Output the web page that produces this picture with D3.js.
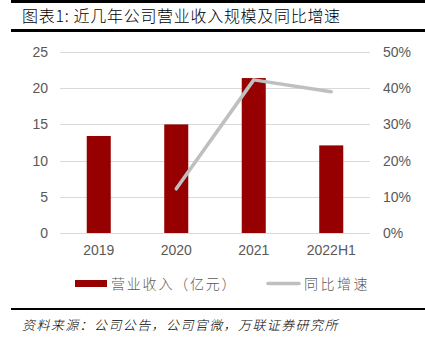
<!DOCTYPE html>
<html>
<head>
<meta charset="utf-8">
<script src="https://cdn.jsdelivr.net/npm/d3@7/dist/d3.min.js"></script>
<style>
  body { margin: 0; background: #fff; }
  svg { display: block; }
</style>
</head>
<body>
<svg id="chart" width="425" height="345"></svg>
<script>
// Revenue (100 million CNY) and year-over-year growth
const categories = ["2019", "2020", "2021", "2022H1"];
const revenue = [13.4, 15.0, 21.4, 12.1];
const growth = [null, 0.122, 0.423, 0.39];
const leftTicks = [0, 5, 10, 15, 20, 25];
const rightTicks = [0, 0.1, 0.2, 0.3, 0.4, 0.5];

const svg = d3.select("#chart");
const cjk = "'Noto Sans CJK SC', 'Noto Sans', sans-serif";
const latin = "Arial, 'Liberation Sans', sans-serif";

// Header and footer rules
svg.append("rect").attr("x", 11).attr("y", 0).attr("width", 414).attr("height", 3).attr("fill", "#000");
svg.append("rect").attr("x", 11).attr("y", 29).attr("width", 414).attr("height", 3).attr("fill", "#000");
svg.append("rect").attr("x", 11).attr("y", 308).attr("width", 414).attr("height", 2).attr("fill", "#000");

svg.append("text")
  .attr("x", 22).attr("y", 22)
  .attr("font-family", cjk).attr("font-size", 16).attr("font-weight", 300).attr("fill", "#000")
  .attr("letter-spacing", 0.7)
  .text("图表1: 近几年公司营业收入规模及同比增速");

svg.append("text")
  .attr("x", 22).attr("y", 330)
  .attr("font-family", cjk).attr("font-size", 13).attr("font-style", "italic").attr("font-weight", 300)
  .attr("letter-spacing", 1.4).attr("fill", "#000")
  .text("资料来源：公司公告，公司官微，万联证券研究所");

// Plot area
const x0 = 60, x1 = 370, yTop = 52, yBot = 233;

const x = d3.scaleBand().domain(categories).range([x0, x1]).paddingInner(0.69).paddingOuter(0.345);
const yL = d3.scaleLinear().domain([0, 25]).range([yBot, yTop]);
const yR = d3.scaleLinear().domain([0, 0.5]).range([yBot, yTop]);

// Gridlines
svg.append("g").selectAll("line").data(leftTicks).join("line")
  .attr("x1", x0).attr("x2", x1)
  .attr("y1", d => Math.round(yL(d)) + 0.5).attr("y2", d => Math.round(yL(d)) + 0.5)
  .attr("stroke", "#d9d9d9").attr("stroke-width", 1);

// Left axis labels
const leftAxis = d3.axisLeft(yL).tickValues(leftTicks).tickSize(0).tickPadding(0).tickFormat(d3.format("d"));
const gl = svg.append("g").attr("transform", `translate(${x0 - 12},0)`).call(leftAxis);
gl.select(".domain").remove();
gl.selectAll("text").attr("font-family", latin).attr("font-size", 14).attr("fill", "#595959");

// Right axis labels
const rightAxis = d3.axisRight(yR).tickValues(rightTicks).tickSize(0).tickPadding(0).tickFormat(d3.format(".0%"));
const gr = svg.append("g").attr("transform", `translate(${x1 + 13},0)`).call(rightAxis);
gr.select(".domain").remove();
gr.selectAll("text").attr("font-family", latin).attr("font-size", 14).attr("fill", "#595959");

// Bottom axis labels
const bottomAxis = d3.axisBottom(x).tickSize(0).tickPadding(0);
const gb = svg.append("g").attr("transform", `translate(0,${yBot + 12})`).call(bottomAxis);
gb.select(".domain").remove();
gb.selectAll("text").attr("font-family", latin).attr("font-size", 14).attr("fill", "#595959");

// Revenue bars
svg.append("g").selectAll("rect").data(categories).join("rect")
  .attr("x", d => x(d))
  .attr("width", x.bandwidth())
  .attr("y", (d, i) => yL(revenue[i]))
  .attr("height", (d, i) => yBot - yL(revenue[i]))
  .attr("fill", "#960000");

// Growth line
const line = d3.line()
  .defined(d => d.v != null)
  .x(d => x(d.c) + x.bandwidth() / 2)
  .y(d => yR(d.v));
svg.append("path")
  .datum(categories.map((c, i) => ({ c, v: growth[i] })))
  .attr("d", line)
  .attr("fill", "none")
  .attr("stroke", "#bfbfbf")
  .attr("stroke-width", 3.5)
  .attr("stroke-linecap", "round")
  .attr("stroke-linejoin", "round");

// Legend
const lg = svg.append("g");
lg.append("rect").attr("x", 75).attr("y", 280).attr("width", 32).attr("height", 7).attr("fill", "#960000");
lg.append("text").attr("x", 111).attr("y", 289)
  .attr("font-family", cjk).attr("font-size", 14).attr("font-weight", 300)
  .attr("letter-spacing", 1.8).attr("fill", "#595959")
  .text("营业收入（亿元）");
lg.append("line").attr("x1", 268).attr("x2", 299).attr("y1", 283.5).attr("y2", 283.5)
  .attr("stroke", "#bfbfbf").attr("stroke-width", 3.5).attr("stroke-linecap", "round");
lg.append("text").attr("x", 304).attr("y", 289)
  .attr("font-family", cjk).attr("font-size", 14).attr("font-weight", 300)
  .attr("letter-spacing", 2.5).attr("fill", "#595959")
  .text("同比增速");
</script>
</body>
</html>
